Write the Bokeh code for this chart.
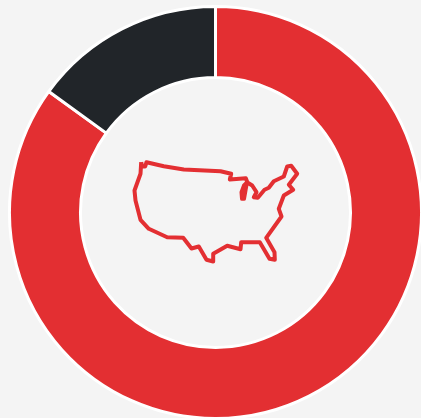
import math
from bokeh.plotting import figure
from bokeh.models import ColumnDataSource, Range1d
from bokeh.embed import file_html
from bokeh.resources import INLINE

categories = ["Share A", "Share B"]
values = [85, 15]
colors = ["#e32f32", "#212529"]

# US outline, as page pixels
outline_x = [140.7,141.7,144.7,146,163.3,183.3,220,230.7,229.3,245.3,246.8,243.5,241,241.5,243.5,245,246.5,251.7,256,253.3,257.3,264,268.3,273.3,283.3,286.7,290.7,296.7,288.3,292.7,283.3,278.3,281,265.7,274,274.3,269,259.3,240.7,240,226.7,212.7,212.7,206,198.3,191,182.7,166.7,148.3,140,135,134,140,140.7]
outline_y = [161.7,166,166,161.7,165.7,169,170.7,173.3,179,177.7,181.7,185,191.7,198.3,198.3,190,181.7,185,191.7,196.7,197.3,189.3,187.3,180.7,176,166,165.3,173.3,184.3,189.3,195,208.3,216,237.3,251.7,259.3,258.3,241.7,241.7,248.7,245.3,253.3,261,259.3,246,248,237.3,236.7,228.3,219.3,200,190,173.3,161.7]

CX, CY = 215, 206
R_OUT, R_IN = 206, 135

p = figure(width=421, height=418, output_backend="svg", toolbar_location=None,
           x_range=Range1d(0, 421), y_range=Range1d(0, 418), min_border=0,
           background_fill_color="#f4f4f4", border_fill_color="#f4f4f4")
p.axis.visible = False
p.grid.visible = False
p.outline_line_color = None

total = sum(values)
end_angles, start_angles = [], []
a = math.pi / 2
for v in values:
    end_angles.append(a)
    a -= 2 * math.pi * v / total
    start_angles.append(a)

src = ColumnDataSource(dict(category=categories, value=values, color=colors,
                            start=start_angles, end=end_angles))
p.annular_wedge(x=CX, y=CY, inner_radius=R_IN, outer_radius=R_OUT,
                start_angle="start", end_angle="end", color="color",
                line_color="white", line_width=3, source=src)

p.line(outline_x, [418 - y for y in outline_y],
       line_color="#e32f32", line_width=4, line_join="round")

html = file_html(p, INLINE)
html = html.replace("<body>", '<body style="background:#f4f4f4">')
open("out.html", "w").write(html)
